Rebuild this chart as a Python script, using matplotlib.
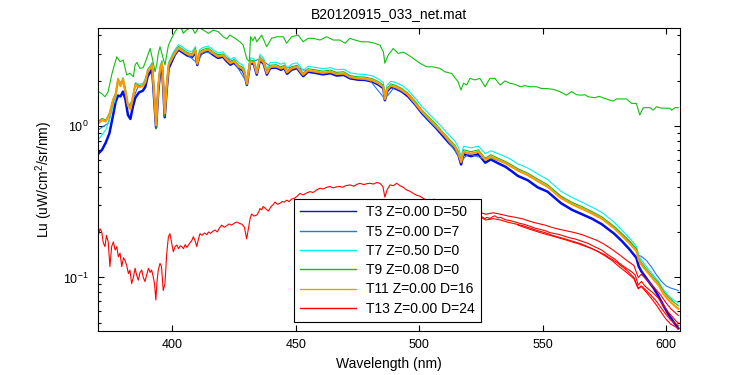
import matplotlib
matplotlib.use("Agg")
import matplotlib.pyplot as plt
from matplotlib.ticker import LogLocator, NullFormatter, FixedLocator

plt.rcParams['font.family'] = ['Liberation Sans', 'DejaVu Sans']
plt.rcParams['mathtext.fontset'] = 'custom'
plt.rcParams['mathtext.rm'] = 'Liberation Sans'
plt.rcParams['mathtext.it'] = 'Liberation Sans:italic'

title = "B20120915_033_net.mat"
labels = ["T3 Z=0.00 D=50", "T5 Z=0.00 D=7", "T7 Z=0.50 D=0",
          "T9 Z=0.08 D=0", "T11 Z=0.00 D=16", "T13 Z=0.00 D=24"]
colors = ['#0010E8', '#1E78F0', '#00F0F0', '#10C010', '#FF9900', '#FF0000']

# wavelength grid shared by the main bundle (nm)
wl = [370, 371.5, 373, 374.5, 376, 377, 378, 379, 380, 381,
      382, 383, 384, 385, 386.5, 388, 389, 390, 391, 391.8,
      392.5, 393.4, 394.3, 395, 395.8, 396.3, 396.9, 397.7, 398.5, 400,
      401, 402.5, 404, 406, 408, 409.3, 410.1, 411, 412.5, 414.5,
      416.5, 418.5, 420.5, 421.5, 423.5, 425, 427, 428.5, 429.3, 430.2,
      431.5, 433, 434.2, 435.5, 437, 438.3, 439.6, 442, 444, 445.3,
      446.5, 448.3, 450.5, 453, 455, 458.5, 461, 464, 466.5, 469.5,
      472, 475, 478, 481, 483.5, 485.5, 486.1, 487, 488.5, 490.5,
      493, 495.5, 498.5, 501, 504, 506.5, 509, 512, 514.5, 516,
      517, 518, 521, 524, 526.8, 529, 532, 535, 537.5, 540,
      544, 548, 552, 557.5, 562, 566, 570, 574, 579, 582,
      585, 588, 589, 590, 592.8, 595, 597, 599, 601, 603,
      605]

t3 = [0.66, 0.70, 0.78, 0.90, 1.19, 1.45, 1.60, 1.58, 1.70, 1.50,
      1.19, 1.12, 1.35, 1.55, 1.68, 1.72, 1.82, 2.15, 2.28, 2.40,
      1.62, 0.98, 1.72, 2.25, 2.48, 1.82, 1.15, 1.75, 2.42, 2.75,
      2.98, 3.22, 3.10, 2.95, 2.88, 3.12, 2.55, 2.98, 3.08, 3.15,
      2.98, 2.84, 2.89, 2.76, 2.56, 2.64, 2.43, 2.35, 2.20, 1.88,
      2.62, 2.59, 2.20, 2.76, 2.59, 2.20, 2.43, 2.45, 2.37, 2.43,
      2.23, 2.37, 2.43, 2.15, 2.30, 2.25, 2.21, 2.25, 2.17, 2.19,
      2.08, 2.04, 2.03, 1.98, 1.89, 1.79, 1.49, 1.71, 1.82, 1.78,
      1.70, 1.58, 1.39, 1.23, 1.09, 0.99, 0.89, 0.78, 0.71, 0.64,
      0.56, 0.655, 0.635, 0.655, 0.575, 0.605, 0.57, 0.54, 0.505, 0.47,
      0.44, 0.395, 0.37, 0.31, 0.28, 0.262, 0.245, 0.225, 0.195, 0.175,
      0.155, 0.135, 0.118, 0.110, 0.095, 0.085, 0.075, 0.065, 0.057, 0.051,
      0.046]

t7 = [0.82, 0.88, 0.95, 1.10, 1.38, 1.52, 1.95, 1.85, 2.10, 1.78,
      1.42, 1.34, 1.60, 1.95, 1.90, 1.92, 2.05, 2.40, 2.52, 2.65,
      1.82, 1.05, 1.92, 2.50, 2.74, 2.04, 1.26, 1.93, 2.66, 3.00,
      3.22, 3.48, 3.36, 3.18, 3.12, 3.38, 2.74, 3.22, 3.33, 3.40,
      3.22, 3.06, 3.12, 2.98, 2.78, 2.86, 2.63, 2.55, 2.38, 2.02,
      2.84, 2.82, 2.38, 3.00, 2.82, 2.39, 2.64, 2.66, 2.58, 2.64,
      2.42, 2.58, 2.64, 2.34, 2.50, 2.45, 2.41, 2.45, 2.37, 2.39,
      2.26, 2.22, 2.21, 2.16, 2.06, 1.95, 1.62, 1.87, 1.99, 1.95,
      1.87, 1.74, 1.53, 1.36, 1.21, 1.10, 1.00, 0.88, 0.80, 0.72,
      0.63, 0.74, 0.72, 0.74, 0.66, 0.69, 0.66, 0.63, 0.60, 0.565,
      0.53, 0.485, 0.445, 0.372, 0.338, 0.315, 0.292, 0.270, 0.232, 0.207,
      0.184, 0.161, 0.140, 0.131, 0.114, 0.103, 0.094, 0.083, 0.076, 0.071,
      0.068]

t9 = [1.08, 1.13, 1.10, 1.22, 1.52, 1.66, 2.08, 1.88, 2.08, 1.74,
      1.40, 1.33, 1.58, 1.92, 1.86, 1.88, 2.00, 2.35, 2.47, 2.60,
      1.78, 0.96, 1.88, 2.45, 2.68, 1.98, 1.16, 1.88, 2.60, 2.92,
      3.12, 3.38, 3.26, 3.09, 3.02, 3.28, 2.62, 3.12, 3.23, 3.30,
      3.12, 2.97, 3.02, 2.89, 2.68, 2.77, 2.54, 2.46, 2.30, 1.88,
      2.75, 2.72, 2.30, 2.89, 2.72, 2.30, 2.54, 2.56, 2.48, 2.54,
      2.34, 2.48, 2.54, 2.25, 2.41, 2.36, 2.32, 2.36, 2.28, 2.30,
      2.17, 2.13, 2.12, 2.07, 1.98, 1.88, 1.50, 1.79, 1.91, 1.87,
      1.78, 1.66, 1.46, 1.29, 1.15, 1.05, 0.94, 0.83, 0.75, 0.68,
      0.58, 0.70, 0.68, 0.70, 0.615, 0.65, 0.615, 0.585, 0.555, 0.525,
      0.49, 0.448, 0.412, 0.345, 0.314, 0.294, 0.273, 0.252, 0.218, 0.196,
      0.176, 0.155, 0.134, 0.126, 0.110, 0.100, 0.092, 0.081, 0.074, 0.069,
      0.065]

t11 = [1.05, 1.10, 1.08, 1.20, 1.50, 1.62, 2.05, 1.85, 2.05, 1.70,
       1.38, 1.30, 1.55, 1.88, 1.82, 1.85, 1.95, 2.30, 2.42, 2.55,
       1.75, 1.02, 1.85, 2.40, 2.62, 1.95, 1.22, 1.85, 2.55, 2.85,
       3.05, 3.30, 3.18, 3.02, 2.95, 3.20, 2.60, 3.05, 3.15, 3.22,
       3.05, 2.90, 2.95, 2.82, 2.62, 2.70, 2.48, 2.40, 2.25, 1.92,
       2.68, 2.65, 2.25, 2.82, 2.65, 2.25, 2.48, 2.50, 2.42, 2.48,
       2.28, 2.42, 2.48, 2.20, 2.35, 2.30, 2.26, 2.30, 2.22, 2.24,
       2.12, 2.08, 2.07, 2.02, 1.93, 1.83, 1.52, 1.75, 1.86, 1.82,
       1.74, 1.62, 1.42, 1.26, 1.12, 1.02, 0.92, 0.81, 0.73, 0.66,
       0.58, 0.68, 0.66, 0.68, 0.60, 0.63, 0.60, 0.57, 0.54, 0.51,
       0.476, 0.435, 0.40, 0.335, 0.305, 0.285, 0.265, 0.245, 0.212, 0.19,
       0.17, 0.15, 0.13, 0.122, 0.107, 0.097, 0.089, 0.078, 0.071, 0.066,
       0.062]

# T5, own coarser grid
wl_t5 = [370, 372, 374, 376, 378, 380, 382, 384, 386, 388,
         390, 391.8, 393.4, 395, 395.8, 396.9, 398.5, 400, 402.5, 406,
         410.1, 412.5, 416, 420, 425, 430.2, 432, 435.5, 440, 445,
         450, 455, 460, 465, 470, 475, 480, 486.1, 490, 495,
         500, 505, 510, 515, 517, 520, 525, 530, 535, 540,
         545, 550, 555, 560, 565, 570, 575, 580, 585, 588,
         589, 590, 592, 594, 596, 598, 600, 602, 605]
t5 = [0.95, 1.0, 1.05, 1.40, 1.95, 1.98, 1.35, 1.50, 1.82, 1.85,
      2.28, 2.52, 1.02, 2.38, 2.60, 1.22, 2.52, 2.82, 3.25, 3.00,
      2.62, 3.12, 3.05, 2.95, 2.68, 1.95, 2.66, 2.80, 2.48, 2.46,
      2.46, 2.33, 2.27, 2.27, 2.20, 2.07, 2.02, 1.52, 1.82, 1.64,
      1.30, 1.05, 0.87, 0.67, 0.59, 0.66, 0.62, 0.61, 0.57, 0.515,
      0.465, 0.415, 0.37, 0.32, 0.29, 0.267, 0.24, 0.21, 0.175, 0.155,
      0.14, 0.138, 0.13, 0.118, 0.105, 0.095, 0.088, 0.085, 0.082]

# T9 near-surface cast (upper green curve)
wl_t9b = [370, 371.4, 372.7, 374, 375.4, 376.5, 377.5, 378.8, 380.1, 381.5,
          382.8, 384.2, 384.9, 385.6, 386.9, 388.2, 389.6, 391, 391.6, 393,
          393.7, 394.3, 395, 396.3, 397, 397.7, 398.4, 399.7, 401.1, 402.4,
          403.4, 404.4, 405.8, 407.8, 409.2, 410.6, 412, 414.6, 416.6, 418.6,
          420.6, 422, 423.3, 425.4, 427.4, 428.7, 430.1, 431.2, 431.7, 432.6,
          433.5, 434.2, 436.2, 438.2, 440.2, 442.3, 445, 446.3, 448.3, 451,
          453, 455.1, 457.1, 459.8, 462.5, 465.2, 467.9, 470, 471.9, 474,
          476.7, 479.4, 482.1, 484.1, 485.5, 486.1, 487.5, 489.5, 491.5, 493.6,
          495.6, 497.6, 500.3, 503, 505.7, 508.4, 510.4, 513.2, 515.8, 516.9,
          518, 519.3, 520.6, 522.6, 524.6, 526.7, 528.7, 530.7, 532.8, 534.8,
          536.8, 538.8, 540.9, 542.9, 544.9, 547.6, 549.6, 551.6, 554.3, 557,
          559.7, 561.7, 563.8, 565.8, 567.2, 568.5, 571.2, 573, 575.3, 578.6,
          580, 584, 586.1, 588, 589.4, 590.8, 593.5, 594.8, 596.2, 598.2,
          601.6, 602.3, 603.6, 605]
t9b = [1.70, 1.65, 1.57, 1.70, 2.19, 2.55, 2.89, 2.68, 2.75, 2.19,
       2.25, 2.13, 2.55, 2.65, 2.42, 2.45, 2.82, 3.28, 2.97, 2.30,
       2.60, 3.04, 3.37, 2.82, 2.55, 2.97, 3.45, 3.83, 4.24, 4.55,
       4.60, 4.13, 4.35, 4.55, 4.13, 4.50, 4.40, 4.13, 4.34, 4.24,
       3.92, 3.80, 4.02, 3.83, 3.63, 3.45, 2.82, 2.68, 3.92, 3.70,
       3.92, 3.63, 4.02, 3.37, 3.83, 3.92, 3.92, 3.55, 3.92, 4.02,
       3.63, 3.83, 3.83, 3.73, 3.92, 3.73, 3.73, 3.55, 3.83, 3.73,
       3.63, 3.63, 3.55, 3.45, 3.12, 2.62, 2.97, 3.28, 3.04, 3.10,
       2.97, 2.82, 2.62, 2.48, 2.48, 2.42, 2.30, 2.24, 1.97, 1.74,
       1.93, 1.88, 2.08, 2.03, 2.08, 1.83, 2.08, 2.08, 1.88, 2.00,
       1.93, 1.90, 1.83, 1.86, 1.83, 1.83, 1.78, 1.78, 1.76, 1.70,
       1.61, 1.70, 1.62, 1.61, 1.62, 1.57, 1.55, 1.58, 1.53, 1.47,
       1.52, 1.52, 1.42, 1.42, 1.19, 1.33, 1.33, 1.28, 1.35, 1.32,
       1.32, 1.28, 1.33, 1.33]

# T13 casts
wl_t13 = [370, 370.7, 371.4, 372, 372.7, 373.3, 374, 374.7, 375.4, 376.1,
          376.8, 377.5, 378.1, 378.8, 379.5, 380.2, 380.8, 381.5, 382.2, 382.8,
          383.5, 384.2, 384.9, 385.5, 386.2, 386.9, 387.6, 388.2, 388.9, 389.6,
          390.3, 391, 391.6, 392.3, 392.8, 393.3, 393.8, 394.3, 395, 395.6,
          396.3, 397, 397.7, 398.4, 399, 399.7, 400.4, 401.1, 401.8, 402.5,
          403.2, 403.8, 404.5, 405.2, 405.9, 406.5, 407.2, 407.9, 408.5, 409.2,
          409.9, 410.5, 411.2, 412, 413, 414, 414.6, 415.5, 416.4, 417.3,
          418.2, 419, 420, 421, 422, 423, 424, 425, 426.1, 427.2,
          428.2, 429.2, 430.1, 430.8, 431.5, 432.1, 433, 434.2, 435, 435.5,
          436.2, 436.8, 437.8, 438.9, 440, 441, 441.6, 442.6, 443.6, 444.5,
          445.3, 446.3, 447.3, 448.3, 449.5, 450.6, 451.7, 453, 454.3, 455.8,
          457, 458.5, 459.8, 461, 462.5, 463.9, 465.2, 466.5, 467.9, 469,
          470.2, 472, 473.5, 475, 476, 477.5, 479, 480.1, 481.5, 482.8,
          484.1, 485.3, 486.1, 487, 488.2, 489.5, 490.9, 492.2, 493.6, 494.9,
          496.3, 497.6, 499, 500.3, 501.5, 503, 505, 510, 515, 517,
          518.5, 521, 524, 526.7, 527.5, 528.7, 529.7, 530.7, 531.8, 533,
          534.2, 535.5, 536.8, 538.8, 540.8, 542.8, 544.9, 546.9, 549, 551,
          553, 555, 557, 559, 561, 563.1, 565.8, 568.5, 571, 573.9,
          576.6, 579.3, 582, 584, 586.1, 587.5, 588.8, 589.5, 590.1, 591.4,
          592.8, 594.8, 596.9, 598.8, 600.9, 602.6, 604.3, 605]
t13 = [0.19, 0.21, 0.20, 0.17, 0.16, 0.19, 0.172, 0.118, 0.16, 0.172,
       0.152, 0.16, 0.137, 0.145, 0.118, 0.135, 0.13, 0.12, 0.106, 0.112,
       0.091, 0.10, 0.115, 0.104, 0.096, 0.108, 0.112, 0.10, 0.094, 0.104,
       0.115, 0.108, 0.112, 0.10, 0.09, 0.071, 0.095, 0.112, 0.124, 0.118,
       0.082, 0.091, 0.143, 0.186, 0.195, 0.17, 0.148, 0.16, 0.164, 0.155,
       0.162, 0.16, 0.155, 0.165, 0.158, 0.164, 0.17, 0.176, 0.186, 0.175,
       0.16, 0.178, 0.195, 0.19, 0.197, 0.192, 0.20, 0.196, 0.202, 0.206,
       0.20, 0.212, 0.222, 0.215, 0.22, 0.226, 0.222, 0.228, 0.233, 0.228,
       0.225, 0.215, 0.18, 0.21, 0.245, 0.263, 0.255, 0.259, 0.272, 0.286,
       0.28, 0.295, 0.285, 0.275, 0.295, 0.305, 0.316, 0.305, 0.31, 0.318,
       0.315, 0.325, 0.318, 0.33, 0.335, 0.345, 0.36, 0.352, 0.362, 0.37,
       0.365, 0.38, 0.39, 0.385, 0.395, 0.40, 0.392, 0.398, 0.40, 0.395,
       0.405, 0.41, 0.402, 0.415, 0.42, 0.412, 0.418, 0.42, 0.415, 0.425,
       0.42, 0.40, 0.34, 0.38, 0.41, 0.405, 0.42, 0.405, 0.395, 0.38,
       0.372, 0.36, 0.35, 0.345, 0.335, 0.325, 0.32, 0.30, 0.28, 0.255,
       0.27, 0.265, 0.26, 0.245, 0.25, 0.245, 0.252, 0.256, 0.248, 0.25,
       0.244, 0.24, 0.238, 0.233, 0.228, 0.224, 0.218, 0.212, 0.208, 0.204,
       0.198, 0.195, 0.192, 0.187, 0.183, 0.18, 0.174, 0.168, 0.16, 0.152,
       0.141, 0.132, 0.121, 0.115, 0.109, 0.104, 0.089, 0.092, 0.094, 0.088,
       0.084, 0.079, 0.073, 0.066, 0.059, 0.055, 0.051, 0.050]

wl_t13b = [506, 510, 514, 517, 520, 524,
           527, 530, 533, 536, 539, 542, 545, 548, 551, 554,
           557, 560, 563, 566, 569, 572, 575, 578, 581, 584,
           587, 588.8, 590, 592, 594, 596, 598, 600, 602, 605]
t13b = [0.33, 0.31, 0.29, 0.27, 0.28, 0.272,
        0.262, 0.268, 0.262, 0.255, 0.25, 0.244, 0.235, 0.228, 0.222, 0.214,
        0.208, 0.203, 0.198, 0.192, 0.184, 0.176, 0.166, 0.154, 0.142, 0.13,
        0.12, 0.10, 0.105, 0.097, 0.09, 0.083, 0.076, 0.068, 0.062, 0.056]
t13c = [0.312, 0.295, 0.276, 0.25, 0.262, 0.255,
        0.24, 0.245, 0.24, 0.232, 0.226, 0.22, 0.212, 0.204, 0.198, 0.19,
        0.184, 0.178, 0.172, 0.166, 0.158, 0.15, 0.14, 0.13, 0.118, 0.108,
        0.098, 0.084, 0.088, 0.082, 0.076, 0.07, 0.063, 0.057, 0.052, 0.048]
wl_t13d = [540, 545, 550, 555, 560, 565, 570, 575, 580, 584,
           587, 588.8, 590, 592, 594, 596, 598, 600, 602, 605]
t13d = [0.222, 0.208, 0.196, 0.186, 0.176, 0.166, 0.155, 0.142, 0.126, 0.112,
        0.10, 0.085, 0.087, 0.08, 0.073, 0.066, 0.059, 0.053, 0.049, 0.046]

fig = plt.figure(figsize=(7.5, 3.75), dpi=100)
ax = fig.add_axes([0.1311, 0.1173, 0.7756, 0.808])

ax.plot(wl, t3, color=colors[0], lw=1.8, label=labels[0])
ax.plot(wl_t5, t5, color=colors[1], lw=0.8, label=labels[1])
ax.plot(wl, t7, color=colors[2], lw=0.8, label=labels[2])
ax.plot(wl, t9, color=colors[3], lw=0.8, label=labels[3])
ax.plot(wl_t9b, t9b, color=colors[3], lw=0.8, label='_nolegend_')
ax.plot(wl, t11, color=colors[4], lw=1.6, label=labels[4])
ax.plot(wl_t13, t13, color=colors[5], lw=0.8, label=labels[5])
ax.plot(wl_t13b, t13b, color=colors[5], lw=0.8, label='_nolegend_')
ax.plot(wl_t13b, t13c, color=colors[5], lw=0.8, label='_nolegend_')
ax.plot(wl_t13d, t13d, color=colors[5], lw=0.8, label='_nolegend_')

ax.set_yscale('log')
ax.set_xlim(370, 605.7)
ax.set_ylim(0.0442, 4.48)
ax.xaxis.set_major_locator(FixedLocator([400, 450, 500, 550, 600]))
ax.yaxis.set_major_locator(LogLocator(base=10))
ax.yaxis.set_minor_locator(LogLocator(base=10, subs=range(2, 10)))
ax.yaxis.set_minor_formatter(NullFormatter())

ax.tick_params(which='both', direction='in', top=True, right=True, width=0.8)
ax.tick_params(which='major', length=4.5, labelsize=9, pad=6)
ax.tick_params(which='minor', length=2.2)
ax.tick_params(axis='y', which='major', pad=7)
for s in ax.spines.values():
    s.set_linewidth(0.8)

ax.set_title(title, fontsize=10, pad=7)
ax.set_xlabel("Wavelength (nm)", fontsize=10, labelpad=4)
ax.set_ylabel("Lu (uW/cm$^2$/sr/nm)", fontsize=10, labelpad=6)

leg = ax.legend(loc='lower left', bbox_to_anchor=(0.336, 0.03), fontsize=10,
                fancybox=False, framealpha=1, edgecolor='black',
                handlelength=4.0, handletextpad=0.75, borderpad=0.45,
                labelspacing=0.38, borderaxespad=0)
leg.get_frame().set_linewidth(0.8)
for h in leg.get_lines():
    h.set_linewidth(1.0)

fig.savefig("out.png", dpi=100)
